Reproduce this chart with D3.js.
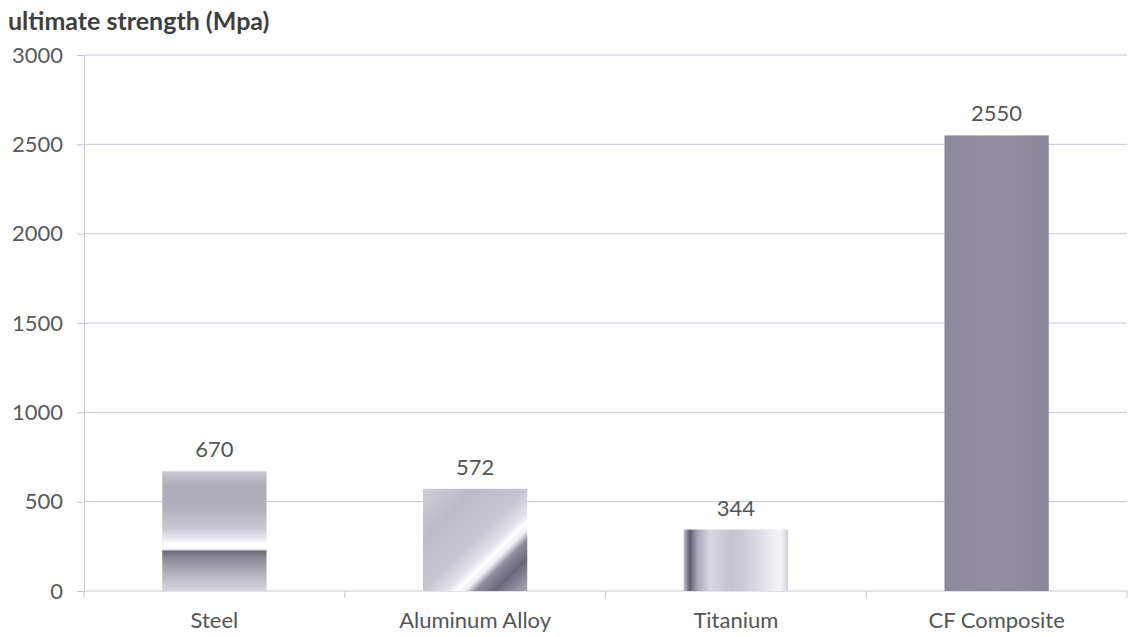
<!DOCTYPE html>
<html>
<head>
<meta charset="utf-8">
<script src="https://cdn.jsdelivr.net/npm/d3@7/dist/d3.min.js"></script>
<style>
  html, body { margin: 0; padding: 0; background: #ffffff; }
  svg { display: block; }
  text { font-family: Lato, "Open Sans", "Liberation Sans", sans-serif; }
</style>
</head>
<body>
<svg id="chart" width="1129" height="637"></svg>
<script>
// Ultimate tensile strength of structural materials (MPa)
const materials = ["Steel", "Aluminum Alloy", "Titanium", "CF Composite"];
const strength = [670, 572, 344, 2550];
const yTicks = [0, 500, 1000, 1500, 2000, 2500, 3000];
const fillIds = ["steelFill", "aluFill", "tiFill", "cfFill"];

const svg = d3.select("#chart");
const margin = { left: 84, right: 2, top: 55, bottom: 46 };
const W = 1129, H = 637;

const x = d3.scaleBand()
  .domain(materials)
  .range([margin.left, W - margin.right])
  .paddingInner(0.6)
  .paddingOuter(0.3);

const y = d3.scaleLinear()
  .domain([0, 3000])
  .range([H - margin.bottom, margin.top]);

// Metallic fills for the bars
const defs = svg.append("defs");
function grad(id, dir, stops) {
  const g = defs.append("linearGradient").attr("id", id)
    .attr("x1", dir[0]).attr("y1", dir[1]).attr("x2", dir[2]).attr("y2", dir[3]);
  stops.forEach(s => g.append("stop").attr("offset", s[0]).attr("stop-color", s[1]));
}
grad("steelFill", [0, 0, 0, 1], [
  [0, "#c9c7d1"], [0.12, "#aeacb9"], [0.3, "#b1afbc"], [0.48, "#cac8d4"],
  [0.57, "#ececf3"], [0.61, "#ffffff"], [0.65, "#fbfbfd"], [0.67, "#6c6978"],
  [0.72, "#8a8796"], [0.85, "#b3b1be"], [1, "#d6d5de"]
]);
grad("aluFill", [0, 0, 1, 1], [
  [0, "#cfcdd6"], [0.25, "#bcbac6"], [0.5, "#c7c5d1"], [0.61, "#e2e2ea"],
  [0.66, "#ffffff"], [0.70, "#eeeef4"], [0.75, "#8f8c9c"], [0.84, "#6c697a"],
  [1, "#aaa8b6"]
]);
grad("tiFill", [0, 0, 1, 0], [
  [0, "#bebcc8"], [0.06, "#5f5c6c"], [0.13, "#a9a7b5"], [0.25, "#d8d7e1"],
  [0.45, "#c4c2cf"], [0.6, "#cfcdd9"], [0.8, "#e6e6ee"], [0.93, "#f4f4f8"],
  [1, "#d2d1da"]
]);
grad("cfFill", [0, 0, 1, 0], [
  [0, "#8c889a"], [0.5, "#938fa0"], [1, "#8a8698"]
]);

// Horizontal gridlines
svg.append("g")
  .selectAll("line")
  .data(yTicks.slice(1))
  .join("line")
  .attr("x1", margin.left).attr("x2", W - margin.right)
  .attr("y1", d => y(d)).attr("y2", d => y(d))
  .attr("stroke", "#c6c6d6").attr("stroke-width", 1);

// Y axis
const yAxis = svg.append("g")
  .attr("transform", `translate(${margin.left},0)`)
  .call(d3.axisLeft(y).tickValues(yTicks).tickFormat(d3.format("d")).tickSize(7).tickPadding(14));
yAxis.select(".domain").attr("stroke", "#c4c4d0");
yAxis.selectAll(".tick line").attr("stroke", "#c4c4d0");
yAxis.selectAll(".tick text")
  .attr("fill", "#5a5a5a").style("font-size", "22px");

// X axis with ticks between categories
const xAxisG = svg.append("g")
  .attr("transform", `translate(0,${y(0)})`);
xAxisG.append("line")
  .attr("x1", margin.left).attr("x2", W - margin.right)
  .attr("stroke", "#c4c4d0");
const step = (W - margin.right - margin.left) / materials.length;
xAxisG.selectAll("line.tk")
  .data(d3.range(materials.length + 1))
  .join("line").attr("class", "tk")
  .attr("x1", i => margin.left + i * step).attr("x2", i => margin.left + i * step)
  .attr("y1", 0).attr("y2", 7)
  .attr("stroke", "#c4c4d0");
xAxisG.selectAll("text")
  .data(materials)
  .join("text")
  .attr("x", d => x(d) + x.bandwidth() / 2)
  .attr("y", 37)
  .attr("text-anchor", "middle")
  .attr("fill", "#555555")
  .style("font-size", "22px")
  .text(d => d);

// Bars
svg.append("g")
  .selectAll("rect")
  .data(materials)
  .join("rect")
  .attr("x", d => x(d))
  .attr("width", x.bandwidth())
  .attr("y", (d, i) => y(strength[i]))
  .attr("height", (d, i) => y(0) - y(strength[i]))
  .attr("fill", (d, i) => `url(#${fillIds[i]})`);

// Value labels
svg.append("g")
  .selectAll("text")
  .data(materials)
  .join("text")
  .attr("x", d => x(d) + x.bandwidth() / 2)
  .attr("y", (d, i) => y(strength[i]) - 14)
  .attr("text-anchor", "middle")
  .attr("fill", "#555555")
  .style("font-size", "22px")
  .text((d, i) => strength[i]);

// Axis title
svg.append("text")
  .attr("x", 8).attr("y", 30)
  .attr("fill", "#3f3f3f")
  .style("font-size", "25px")
  .style("font-weight", "bold")
  .text("ultimate strength (Mpa)");
</script>
</body>
</html>
